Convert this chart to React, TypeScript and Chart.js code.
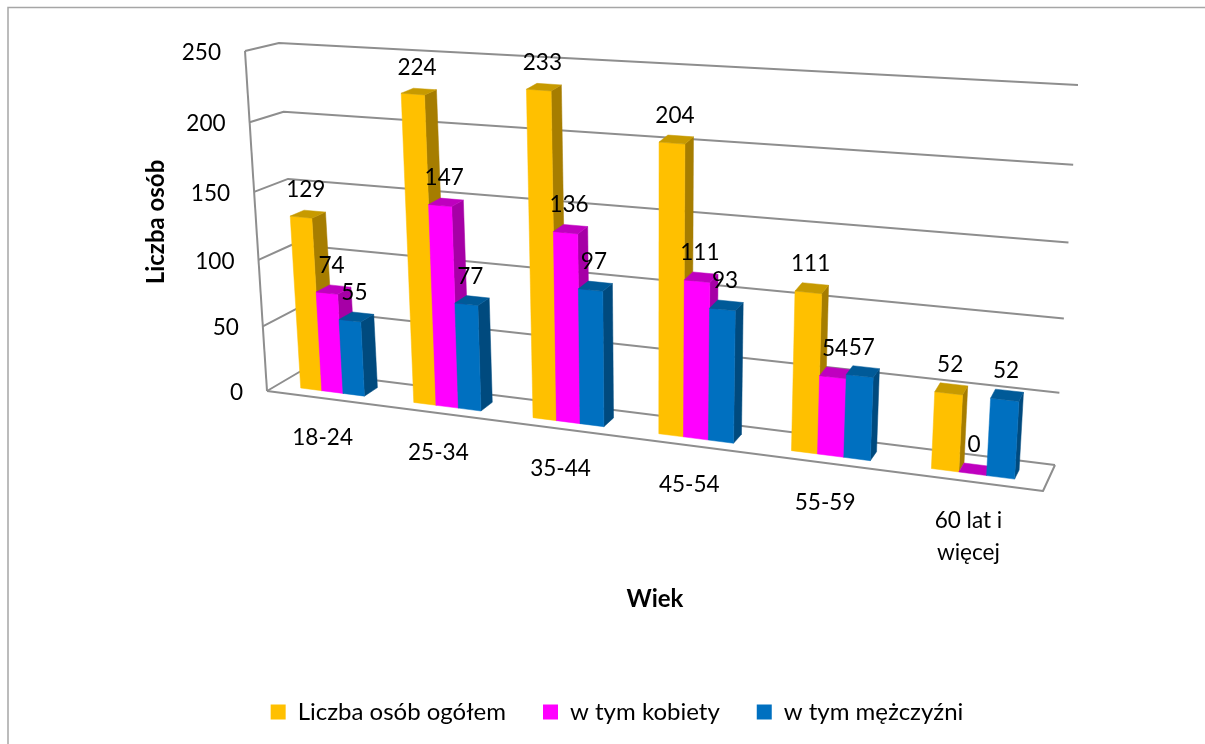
import React, { useEffect, useRef } from "react";
import { Chart, registerables } from "chart.js";

Chart.register(...registerables);

const categories = ["18-24", "25-34", "35-44", "45-54", "55-59", "60 lat i więcej"];
const categoryLines = [["18-24"], ["25-34"], ["35-44"], ["45-54"], ["55-59"], ["60 lat i", "więcej"]];
const totalPeople = [129, 224, 233, 204, 111, 52];
const women = [74, 147, 136, 111, 54, 0];
const men = [55, 77, 97, 93, 57, 52];
const seriesNames = ["Liczba osób ogółem", "w tym kobiety", "w tym mężczyźni"];
const frontColors = ["#FFC000", "#FF00FF", "#0070C0"];
const sideColors = ["#A67D00", "#A600A6", "#004A7E"];
const topColors = ["#C79A00", "#BF00BF", "#005A98"];
const yTicks = [0, 50, 100, 150, 200, 250];
const FONT = "Lato";
const GRID = "#8E8E8E";

type P = [number, number];
const F00: P = [267, 391];
const F10: P = [1043, 491];
const B00: P = [301, 371];
const B10: P = [1055, 465];
const F01: P = [245, 51];
const F11: P = [1066, 112];
const B01: P = [279, 43];
const B11: P = [1078, 85];

const lerp = (a: P, b: P, t: number): P => [a[0] + (b[0] - a[0]) * t, a[1] + (b[1] - a[1]) * t];
const K = 0.32;
const warpU = (u: number) => (Math.exp(K * u) - 1) / (Math.exp(K) - 1);
const warpV = (v: number) => v - 0.06 * v * (1 - v);

function project(u: number, v: number, w: number): P {
  const a = warpU(u);
  const bottom = lerp(lerp(F00, F10, a), lerp(B00, B10, a), w);
  const top = lerp(lerp(F01, F11, a), lerp(B01, B11, a), w);
  return lerp(bottom, top, warpV(v));
}

function poly(ctx: CanvasRenderingContext2D, pts: P[], fill: string) {
  ctx.beginPath();
  pts.forEach((p, i) => (i ? ctx.lineTo(p[0], p[1]) : ctx.moveTo(p[0], p[1])));
  ctx.closePath();
  ctx.fillStyle = fill;
  ctx.fill();
  ctx.strokeStyle = fill;
  ctx.lineWidth = 0.5;
  ctx.stroke();
}

function line(ctx: CanvasRenderingContext2D, a: P, b: P) {
  ctx.beginPath();
  ctx.moveTo(a[0], a[1]);
  ctx.lineTo(b[0], b[1]);
  ctx.stroke();
}

function text(ctx: CanvasRenderingContext2D, s: string, x: number, y: number) {
  ctx.save();
  ctx.translate(x, y);
  ctx.scale(0.94, 1);
  ctx.fillText(s, 0, 0);
  ctx.restore();
}

const W_FRONT = 0.3;
const TOP_LIFT = 0.008;

const scene3d = {
  id: "scene3d",
  beforeDatasetsDraw(chart: any) {
    const { ctx, chartArea: ca, scales } = chart;
    const yS = scales.y;
    const toU = (x: number) => (x - ca.left) / (ca.right - ca.left);
    const toV = (val: number) => (ca.bottom - yS.getPixelForValue(val)) / (ca.bottom - ca.top);
    ctx.save();

    // frame
    ctx.strokeStyle = "#A6A6A6";
    ctx.lineWidth = 1.5;
    ctx.beginPath();
    ctx.moveTo(8, 744);
    ctx.lineTo(8, 7.5);
    ctx.lineTo(1205, 7.5);
    ctx.stroke();

    // walls and floor
    ctx.strokeStyle = GRID;
    ctx.lineWidth = 2;
    ctx.lineJoin = "round";
    yS.ticks.forEach((t: any) => {
      const v = toV(t.value);
      const a = project(0, v, 0);
      const b = project(0, v, 1);
      const c = project(1, v, 1);
      ctx.beginPath();
      ctx.moveTo(a[0], a[1]);
      ctx.lineTo(b[0], b[1]);
      ctx.lineTo(c[0], c[1]);
      ctx.stroke();
    });
    line(ctx, project(0, 0, 0), project(0, 1, 0));
    ctx.beginPath();
    const f0 = project(0, 0, 0), f1 = project(1, 0, 0), f2 = project(1, 0, 1);
    ctx.moveTo(f0[0], f0[1]);
    ctx.lineTo(f1[0], f1[1]);
    ctx.lineTo(f2[0], f2[1]);
    ctx.stroke();

    // bars, category by category, through the library's bar elements
    const metas = chart.data.datasets.map((_: any, i: number) => chart.getDatasetMeta(i));
    const tops: { label: string; p: P }[] = [];
    chart.data.labels.forEach((_: any, c: number) => {
      metas.forEach((meta: any, s: number) => {
        const el = meta.data[c];
        const val = chart.data.datasets[s].data[c];
        const u0 = toU(el.x - el.width / 2);
        const u1 = toU(el.x + el.width / 2);
        const wb = 0.72 - 0.07 * warpU(u1);
        const v = toV(val) + (val > 0 ? TOP_LIFT : 0);
        const fl0 = project(u0, 0, W_FRONT), fl1 = project(u1, 0, W_FRONT);
        const bl1 = project(u1, 0, wb);
        const ft0 = project(u0, v, W_FRONT), ft1 = project(u1, v, W_FRONT);
        const bt0 = project(u0, v, wb), bt1 = project(u1, v, wb);
        poly(ctx, [fl1, bl1, bt1, ft1], sideColors[s]);
        if (val > 0) poly(ctx, [fl0, fl1, ft1, ft0], frontColors[s]);
        poly(ctx, [ft0, ft1, bt1, bt0], topColors[s]);
        const mid = project((u0 + u1) / 2, v, (W_FRONT + 0.65) / 2);
        tops.push({ label: String(val), p: mid });
      });
    });

    // text
    ctx.fillStyle = "#000";
    ctx.font = `24px ${FONT}`;
    ctx.textAlign = "center";
    ctx.textBaseline = "middle";
    tops.forEach(({ label, p }) => text(ctx, label, p[0] - 1, p[1] - 25));

    ctx.textAlign = "right";
    yS.ticks.forEach((t: any) => {
      const p = project(0, toV(t.value), 0);
      text(ctx, String(t.value), p[0] - 24, p[1] + 1);
    });

    ctx.textAlign = "center";
    const xS = scales.x;
    categoryLines.forEach((lines, i) => {
      const p = project(toU(xS.getPixelForValue(i)), 0, 0);
      lines.forEach((l, k) => text(ctx, l, p[0], p[1] + 39 + k * 32));
    });

    ctx.font = `bold 24px ${FONT}`;
    ctx.fillText(xS.options.title.text, 655, 599);
    ctx.translate(156, 222);
    ctx.rotate(-Math.PI / 2);
    ctx.fillText(yS.options.title.text, 0, 0);
    ctx.restore();
    return false;
  },
};

export default function App() {
  const ref = useRef<HTMLCanvasElement>(null);
  useEffect(() => {
    const seriesValues = [totalPeople, women, men];
    const chart = new Chart(ref.current!, {
      type: "bar",
      data: {
        labels: categories,
        datasets: seriesNames.map((label, i) => ({
          label,
          data: seriesValues[i],
          backgroundColor: frontColors[i],
          categoryPercentage: 0.57,
          barPercentage: 1,
        })),
      },
      options: {
        responsive: false,
        animation: false,
        layout: { padding: { bottom: 10, left: 29 } },
        scales: {
          x: { display: false, title: { text: "Wiek" } },
          y: {
            display: false,
            min: 0,
            max: 250,
            afterBuildTicks: (s: any) => {
              s.ticks = yTicks.map((value) => ({ value }));
            },
            title: { text: "Liczba osób" },
          },
        },
        plugins: {
          tooltip: { enabled: false },
          legend: {
            position: "bottom",
            labels: {
              boxWidth: 15,
              boxHeight: 15,
              padding: 37,
              color: "#000",
              font: { family: FONT, size: 24 },
            },
          },
        },
      },
      plugins: [scene3d],
    } as any);
    return () => chart.destroy();
  }, []);
  return (
    <div style={{ position: "fixed", left: 0, top: 0 }}>
      <canvas ref={ref} width={1205} height={744} style={{ display: "block" }} />
    </div>
  );
}
